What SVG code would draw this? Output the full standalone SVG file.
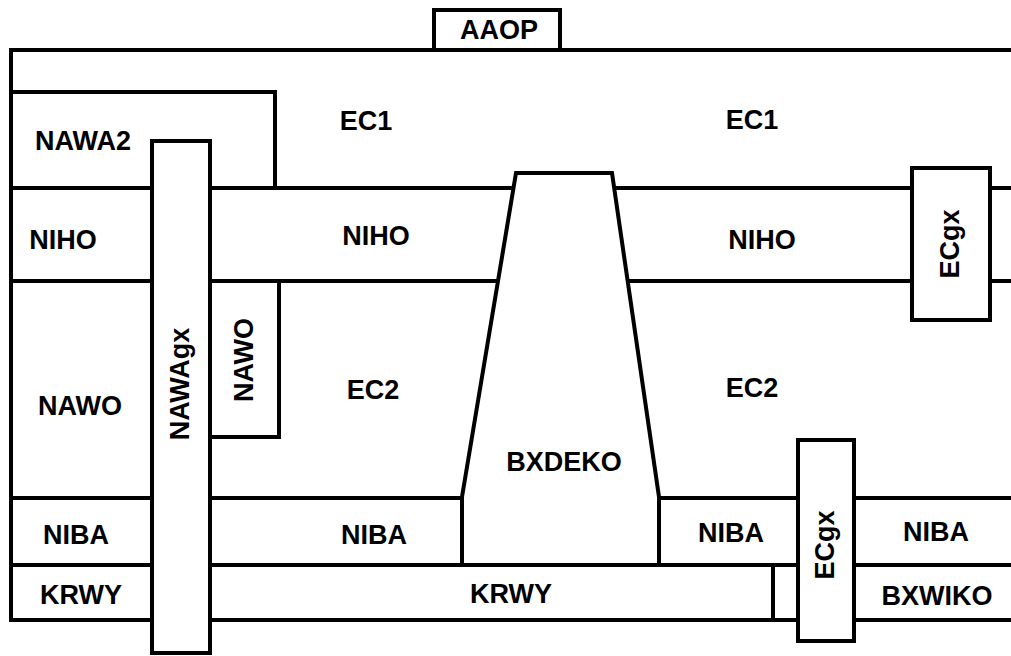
<svg xmlns="http://www.w3.org/2000/svg" width="1011" height="656" viewBox="0 0 1011 656">
<style>
.ln{fill:none;stroke:#000;stroke-width:4;stroke-linecap:square}
.bx{fill:#fff;stroke:#000;stroke-width:4}
.t{font-family:"Liberation Sans",Arial,sans-serif;font-weight:bold;font-size:27px;fill:#000;text-anchor:middle;dominant-baseline:central}
</style>
<rect width="1011" height="656" fill="#fff"/>
<g id="connectors">
<path class="ln" d="M11,50 H1013 M11,50 V620 M11,92 H275 V188 M11,188 H1013 M11,281 H1013 M210,437 H279 V281 M11,498 H1013 M11,565 H1013 M11,620 H1013 M773,565 V620"/>
</g>
<g id="AAOP"><rect class="bx" x="434" y="10" width="126" height="40"/><text class="t" x="499" y="30">AAOP</text></g>
<g id="EC1a"><text class="t" x="366" y="121">EC1</text></g>
<g id="EC1b"><text class="t" x="752" y="120">EC1</text></g>
<g id="NAWA2"><text class="t" x="83" y="141">NAWA2</text></g>
<g id="NIHOa"><text class="t" x="63" y="240">NIHO</text></g>
<g id="NIHOb"><text class="t" x="376" y="236">NIHO</text></g>
<g id="NIHOc"><text class="t" x="762" y="240">NIHO</text></g>
<g id="NAWOa"><text class="t" x="80" y="406">NAWO</text></g>
<g id="NAWOb"><text class="t" transform="translate(244,360) rotate(-90)">NAWO</text></g>
<g id="EC2a"><text class="t" x="373" y="390">EC2</text></g>
<g id="EC2b"><text class="t" x="752" y="388">EC2</text></g>
<g id="BXDEKO"><path class="bx" d="M516,173 H612 L659,497 V565 H462 V497 Z"/><text class="t" x="564" y="462">BXDEKO</text></g>
<g id="NIBAa"><text class="t" x="76" y="535">NIBA</text></g>
<g id="NIBAb"><text class="t" x="374" y="535">NIBA</text></g>
<g id="NIBAc"><text class="t" x="731" y="533">NIBA</text></g>
<g id="NIBAd"><text class="t" x="936" y="532">NIBA</text></g>
<g id="KRWYa"><text class="t" x="81" y="595">KRWY</text></g>
<g id="KRWYb"><text class="t" x="511" y="594">KRWY</text></g>
<g id="BXWIKO"><text class="t" x="937" y="596">BXWIKO</text></g>
<g id="NAWAgx"><rect class="bx" x="152" y="141" width="58" height="512"/><text class="t" transform="translate(180,384) rotate(-90)">NAWAgx</text></g>
<g id="ECgx1"><rect class="bx" x="912" y="168" width="78" height="152"/><text class="t" transform="translate(950,244) rotate(-90)">ECgx</text></g>
<g id="ECgx2"><rect class="bx" x="798" y="440" width="56" height="201"/><text class="t" transform="translate(825,545) rotate(-90)">ECgx</text></g>
</svg>
